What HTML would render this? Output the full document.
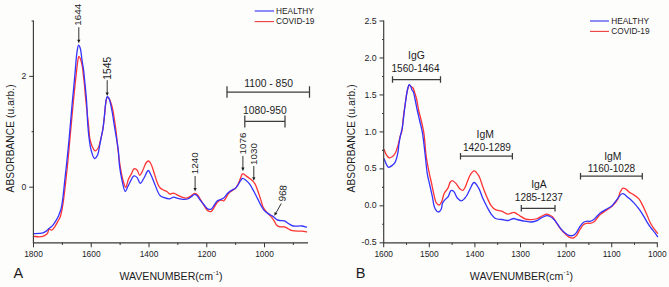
<!DOCTYPE html><html><head><meta charset="utf-8"><style>html,body{margin:0;padding:0;background:#fdfdfc;overflow:hidden;}svg{display:block;}text{font-family:"Liberation Sans",sans-serif;}</style></head><body>
<svg width="669" height="287" viewBox="0 0 669 287" font-family="Liberation Sans, sans-serif">
<rect width="669" height="287" fill="#fdfdfc"/>
<path d="M33.00,236.30 C35.13,236.47 37.60,236.86 39.40,236.80 C40.71,236.76 41.68,236.64 42.80,236.30 C43.99,235.93 45.40,235.37 46.30,234.60 C47.11,233.90 47.67,232.94 48.10,232.00 C48.53,231.07 48.30,229.29 48.90,229.00 C49.48,228.72 50.72,230.40 51.60,230.20 C52.77,229.94 53.93,227.81 55.00,226.30 C56.25,224.55 57.58,221.81 58.50,220.20 C59.10,219.15 59.53,218.79 60.00,217.60 C60.86,215.45 61.67,211.25 62.30,208.00 C62.94,204.71 63.29,201.82 63.80,198.00 C64.48,192.88 65.22,186.16 65.90,180.00 C66.62,173.51 67.35,166.67 68.00,160.00 C68.65,153.34 69.09,147.81 69.80,140.00 C70.81,128.95 72.64,108.89 73.50,100.00 C73.93,95.55 74.09,93.90 74.50,90.00 C75.08,84.48 76.08,75.35 76.70,70.00 C77.12,66.41 77.35,63.51 77.80,61.00 C78.12,59.17 78.38,56.39 78.90,56.30 C79.28,56.23 79.86,57.48 80.30,58.50 C81.10,60.37 81.90,64.19 82.40,67.00 C82.88,69.69 82.97,72.19 83.30,75.00 C83.67,78.15 84.17,81.66 84.50,85.00 C84.83,88.33 84.91,90.78 85.30,95.00 C85.98,102.32 87.66,116.88 88.50,125.00 C89.07,130.54 89.14,135.18 89.90,139.00 C90.45,141.73 91.08,143.85 92.00,145.90 C92.82,147.73 93.87,150.63 95.00,150.80 C95.97,150.95 97.36,149.30 98.20,148.00 C99.30,146.30 99.64,143.49 100.30,141.00 C101.05,138.20 101.77,135.45 102.40,132.00 C103.23,127.45 103.91,121.06 104.50,116.00 C105.03,111.45 105.20,106.40 105.80,103.00 C106.19,100.76 106.40,97.84 107.20,97.50 C107.68,97.29 108.44,97.85 109.00,98.50 C110.15,99.83 111.19,103.61 112.00,106.50 C112.91,109.73 113.38,113.31 114.00,117.00 C114.69,121.10 115.30,125.20 115.90,130.00 C116.65,135.94 117.20,143.44 118.00,150.00 C118.77,156.37 119.61,163.19 120.60,168.80 C121.41,173.41 122.24,177.93 123.30,181.30 C124.05,183.70 124.99,187.33 125.80,187.30 C126.74,187.26 127.43,181.44 128.50,179.00 C129.41,176.93 130.67,175.27 131.60,173.50 C132.45,171.88 132.84,169.22 133.90,168.80 C134.75,168.47 136.12,169.21 137.00,170.00 C138.18,171.06 138.75,175.25 139.70,175.30 C140.59,175.35 141.58,172.70 142.50,171.00 C143.70,168.78 144.75,164.70 146.00,163.00 C146.74,162.00 147.55,160.99 148.30,161.00 C149.05,161.01 149.81,161.97 150.50,163.00 C151.76,164.87 152.83,169.07 153.90,172.20 C155.00,175.40 155.84,179.20 157.00,182.00 C157.92,184.23 158.67,186.37 160.00,187.80 C161.15,189.05 162.94,189.75 164.20,190.40 C165.15,190.89 165.93,190.97 166.80,191.50 C167.84,192.13 168.79,193.88 169.90,194.10 C170.91,194.30 172.01,193.05 173.10,193.10 C174.27,193.15 175.39,194.01 176.70,194.60 C178.31,195.33 180.20,196.63 182.00,197.20 C183.70,197.73 185.61,198.29 187.20,198.00 C188.70,197.73 190.04,196.50 191.30,195.70 C192.45,194.96 193.46,193.50 194.50,193.40 C195.39,193.32 196.29,193.92 197.10,194.60 C198.18,195.50 198.97,197.21 200.00,198.80 C201.30,200.80 202.83,203.62 204.20,205.70 C205.39,207.50 206.34,209.67 207.70,210.60 C208.75,211.32 210.21,211.86 211.20,211.50 C212.32,211.10 212.97,209.18 213.90,207.80 C215.02,206.14 216.06,203.52 217.40,202.20 C218.46,201.16 219.76,200.27 220.90,200.10 C221.86,199.96 222.79,201.15 223.70,200.80 C225.17,200.23 226.70,196.10 227.90,194.50 C228.69,193.45 229.08,192.82 230.00,192.00 C231.23,190.91 233.56,190.10 234.90,188.80 C236.17,187.57 237.02,186.11 237.90,184.50 C238.89,182.69 239.63,180.25 240.40,178.40 C241.05,176.84 241.48,174.72 242.20,174.10 C242.57,173.78 242.95,173.71 243.40,173.80 C244.11,173.95 244.99,175.01 245.90,175.70 C246.99,176.52 248.35,177.51 249.50,178.40 C250.58,179.24 251.68,179.97 252.60,180.90 C253.51,181.81 254.26,182.63 255.00,183.90 C256.01,185.63 256.82,188.23 257.70,190.60 C258.66,193.21 259.58,196.12 260.50,198.90 C261.42,201.69 262.02,204.95 263.20,207.30 C264.18,209.24 265.41,210.68 266.70,212.20 C267.98,213.71 269.62,214.89 270.90,216.40 C272.19,217.92 273.41,219.76 274.40,221.30 C275.23,222.60 275.64,224.09 276.50,225.00 C277.22,225.76 277.95,226.26 279.00,226.60 C280.41,227.06 282.95,226.54 284.40,226.90 C285.45,227.16 285.99,227.61 287.00,228.10 C288.44,228.79 290.14,230.16 292.20,230.70 C294.85,231.40 299.09,230.92 301.80,231.20 C303.80,231.41 305.27,231.73 307.00,232.00" fill="none" stroke="#ff3333" stroke-width="1.3" stroke-linejoin="round"/>
<path d="M33.00,233.60 C35.13,233.53 37.61,233.56 39.40,233.40 C40.71,233.28 41.69,233.26 42.80,232.90 C43.99,232.52 45.27,231.85 46.30,231.10 C47.29,230.37 48.04,229.22 48.90,228.50 C49.64,227.89 50.37,227.64 51.10,227.00 C51.98,226.23 52.87,225.17 53.70,224.10 C54.61,222.93 55.50,221.56 56.30,220.20 C57.11,218.82 57.78,217.58 58.50,215.90 C59.46,213.67 60.57,210.81 61.30,207.90 C62.13,204.58 62.47,201.04 63.00,197.00 C63.66,191.97 64.16,185.90 64.80,180.00 C65.49,173.60 66.30,166.67 67.00,160.00 C67.70,153.34 68.27,147.81 69.00,140.00 C70.04,128.96 71.67,108.89 72.50,100.00 C72.92,95.55 73.13,93.91 73.50,90.00 C74.02,84.48 74.70,76.49 75.30,70.00 C75.87,63.84 76.25,56.55 77.00,52.00 C77.46,49.17 77.93,45.28 78.60,45.20 C79.09,45.14 79.82,47.02 80.30,48.50 C81.15,51.13 81.43,56.30 82.00,60.00 C82.53,63.45 83.17,66.66 83.60,70.00 C84.03,73.33 84.22,76.09 84.60,80.00 C85.14,85.52 85.98,92.96 86.50,100.00 C87.08,107.86 87.26,117.87 87.80,125.00 C88.21,130.34 88.58,134.54 89.20,139.00 C89.77,143.11 90.28,147.33 91.30,150.80 C92.15,153.69 93.25,158.29 94.50,158.50 C95.43,158.66 96.80,156.57 97.60,155.00 C98.73,152.78 98.95,149.09 99.60,145.90 C100.32,142.39 101.06,138.07 101.70,134.80 C102.21,132.20 102.68,130.49 103.10,127.80 C103.66,124.18 104.06,119.20 104.50,115.00 C104.93,110.94 105.16,106.33 105.70,103.00 C106.09,100.58 106.32,97.17 107.10,96.80 C107.49,96.62 108.10,97.05 108.50,97.50 C109.17,98.24 109.52,99.86 110.00,101.50 C110.72,103.97 111.33,107.37 112.00,111.00 C112.89,115.84 113.73,121.97 114.70,128.00 C115.81,134.86 117.49,143.27 118.30,150.00 C118.98,155.66 118.85,160.49 119.50,165.70 C120.15,170.92 121.10,176.68 122.20,181.30 C123.10,185.09 124.21,191.40 125.30,191.50 C126.07,191.57 126.85,188.48 127.70,186.80 C128.67,184.88 129.71,182.49 130.80,180.60 C131.78,178.89 132.71,176.23 133.90,175.90 C134.83,175.64 136.07,176.52 137.00,177.40 C138.30,178.63 139.12,183.24 140.30,183.30 C141.46,183.36 142.76,179.95 144.00,178.00 C145.43,175.75 147.02,170.51 148.30,170.50 C149.29,170.49 150.08,173.17 151.00,175.00 C152.30,177.58 153.55,181.40 155.00,184.70 C156.54,188.22 157.99,193.43 160.00,195.50 C161.26,196.80 162.69,197.06 164.20,197.60 C165.81,198.18 167.78,198.91 169.40,198.80 C170.89,198.70 172.19,197.28 173.60,197.20 C174.99,197.13 176.32,197.96 177.80,198.30 C179.44,198.67 181.30,199.19 183.00,199.30 C184.60,199.40 186.29,199.46 187.70,199.00 C189.04,198.56 190.15,197.48 191.30,196.70 C192.41,195.95 193.46,194.48 194.50,194.40 C195.39,194.33 196.29,195.00 197.10,195.70 C198.16,196.61 198.92,198.37 200.00,199.80 C201.25,201.45 202.84,203.42 204.20,205.00 C205.40,206.39 206.40,208.14 207.70,208.80 C208.77,209.35 210.20,209.62 211.20,209.20 C212.31,208.73 212.95,206.97 213.90,205.70 C215.00,204.21 216.06,201.85 217.40,200.80 C218.46,199.97 219.81,199.89 220.90,199.40 C221.90,198.95 222.75,198.74 223.70,198.00 C225.06,196.93 226.35,194.52 227.90,193.10 C229.40,191.73 231.47,190.31 232.80,189.60 C233.61,189.16 234.21,189.30 234.90,188.80 C235.91,188.07 236.99,186.41 237.90,185.10 C238.82,183.78 239.55,182.09 240.40,180.90 C241.09,179.93 241.64,178.57 242.50,178.40 C243.44,178.22 244.81,179.38 245.90,180.20 C247.16,181.14 248.32,182.34 249.50,183.90 C251.10,186.00 252.78,189.39 254.20,192.00 C255.49,194.37 256.54,196.59 257.70,198.90 C258.87,201.22 260.06,203.89 261.20,205.90 C262.11,207.51 262.79,208.84 263.90,210.10 C265.07,211.42 266.60,212.56 268.10,213.60 C269.63,214.66 271.47,215.34 273.00,216.40 C274.50,217.44 275.78,219.22 277.20,219.90 C278.35,220.45 279.51,220.43 280.70,220.60 C281.91,220.77 283.17,220.48 284.40,220.90 C285.84,221.39 287.24,222.84 288.70,223.70 C290.14,224.54 291.32,225.56 293.10,226.00 C295.45,226.58 299.29,225.71 301.80,226.00 C303.77,226.22 305.27,226.80 307.00,227.20" fill="none" stroke="#3333ff" stroke-width="1.3" stroke-linejoin="round"/>
<path d="M33.4,20.5 V242.8 H308" fill="none" stroke="#3a3a3a" stroke-width="1.15"/>
<line x1="31.60" y1="21.0" x2="33.4" y2="21.0" stroke="#3a3a3a" stroke-width="1.05"/>
<line x1="29.20" y1="76.4" x2="33.4" y2="76.4" stroke="#3a3a3a" stroke-width="1.05"/>
<line x1="31.60" y1="131.7" x2="33.4" y2="131.7" stroke="#3a3a3a" stroke-width="1.05"/>
<line x1="29.20" y1="187.2" x2="33.4" y2="187.2" stroke="#3a3a3a" stroke-width="1.05"/>
<text x="26.4" y="79.00" font-size="8.6" text-anchor="end" fill="#1c1c1c">2</text>
<text x="26.4" y="189.80" font-size="8.6" text-anchor="end" fill="#1c1c1c">0</text>
<line x1="33.50" y1="242.8" x2="33.50" y2="247.3" stroke="#3a3a3a" stroke-width="1.05"/>
<text x="33.50" y="256.7" font-size="8.4" text-anchor="middle" fill="#1c1c1c">1800</text>
<line x1="62.38" y1="242.8" x2="62.38" y2="245.0" stroke="#3a3a3a" stroke-width="1.05"/>
<line x1="91.25" y1="242.8" x2="91.25" y2="247.3" stroke="#3a3a3a" stroke-width="1.05"/>
<text x="91.25" y="256.7" font-size="8.4" text-anchor="middle" fill="#1c1c1c">1600</text>
<line x1="120.12" y1="242.8" x2="120.12" y2="245.0" stroke="#3a3a3a" stroke-width="1.05"/>
<line x1="149.00" y1="242.8" x2="149.00" y2="247.3" stroke="#3a3a3a" stroke-width="1.05"/>
<text x="149.00" y="256.7" font-size="8.4" text-anchor="middle" fill="#1c1c1c">1400</text>
<line x1="177.88" y1="242.8" x2="177.88" y2="245.0" stroke="#3a3a3a" stroke-width="1.05"/>
<line x1="206.75" y1="242.8" x2="206.75" y2="247.3" stroke="#3a3a3a" stroke-width="1.05"/>
<text x="206.75" y="256.7" font-size="8.4" text-anchor="middle" fill="#1c1c1c">1200</text>
<line x1="235.62" y1="242.8" x2="235.62" y2="245.0" stroke="#3a3a3a" stroke-width="1.05"/>
<line x1="264.50" y1="242.8" x2="264.50" y2="247.3" stroke="#3a3a3a" stroke-width="1.05"/>
<text x="264.50" y="256.7" font-size="8.4" text-anchor="middle" fill="#1c1c1c">1000</text>
<line x1="293.38" y1="242.8" x2="293.38" y2="245.0" stroke="#3a3a3a" stroke-width="1.05"/>
<text transform="translate(14.3,138.4) rotate(-90)" font-size="10.1" text-anchor="middle" textLength="108" fill="#1c1c1c">ABSORBANCE (u.arb.)</text>
<text x="119.4" y="280.3" font-size="10.6" fill="#1c1c1c">WAVENUMBER(cm<tspan font-size="6" dy="-6.1">-</tspan><tspan font-size="6.2" dy="1.2" dx="0.6">1</tspan><tspan dy="4.9">)</tspan></text>
<text x="13.5" y="278" font-size="14.5" fill="#1c1c1c">A</text>
<line x1="254.7" y1="11" x2="274.1" y2="11" stroke="#7070f4" stroke-width="1.6"/>
<line x1="254.7" y1="21.6" x2="274.1" y2="21.6" stroke="#ee4040" stroke-width="1.1"/>
<text x="276.1" y="13.7" font-size="8.3" fill="#1c1c1c">HEALTHY</text>
<text x="276.1" y="24.0" font-size="8.3" fill="#1c1c1c">COVID-19</text>
<text transform="translate(81.2,25.8) rotate(-90)" font-size="9.9" fill="#1c1c1c">1644</text>
<line x1="78.8" y1="27.2" x2="78.8" y2="40.3" stroke="#1c1c1c" stroke-width="0.9"/><path d="M77.2,39.699999999999996 L80.39999999999999,39.699999999999996 L78.8,43.3 Z" fill="#1c1c1c"/>
<text transform="translate(110.7,79.8) rotate(-90)" font-size="10.3" fill="#1c1c1c">1545</text>
<line x1="107.2" y1="80.2" x2="107.2" y2="93" stroke="#1c1c1c" stroke-width="0.9"/><path d="M105.60000000000001,92.4 L108.8,92.4 L107.2,96 Z" fill="#1c1c1c"/>
<text transform="translate(198.3,174.2) rotate(-90)" font-size="9.9" fill="#1c1c1c">1240</text>
<line x1="195.1" y1="176" x2="195.1" y2="188.6" stroke="#1c1c1c" stroke-width="0.9"/><path d="M193.5,188.0 L196.7,188.0 L195.1,191.6 Z" fill="#1c1c1c"/>
<text transform="translate(245.9,154.6) rotate(-90)" font-size="9.9" fill="#1c1c1c">1076</text>
<line x1="242.9" y1="155.9" x2="242.9" y2="168.2" stroke="#1c1c1c" stroke-width="0.9"/><path d="M241.3,167.6 L244.5,167.6 L242.9,171.2 Z" fill="#1c1c1c"/>
<text transform="translate(256.9,165.1) rotate(-90)" font-size="9.9" fill="#1c1c1c">1030</text>
<line x1="253.8" y1="166" x2="253.8" y2="177.8" stroke="#1c1c1c" stroke-width="0.9"/><path d="M252.20000000000002,177.20000000000002 L255.4,177.20000000000002 L253.8,180.8 Z" fill="#1c1c1c"/>
<text transform="translate(285.2,201.8) rotate(-84)" font-size="9.9" fill="#1c1c1c">968</text>
<line x1="281.3" y1="203.5" x2="276.0" y2="212.8" stroke="#1c1c1c" stroke-width="0.9"/>
<path d="M274.3,215.8 L274.64,211.97 L277.42,213.55 Z" fill="#1c1c1c"/>
<text x="244.2" y="87.4" font-size="10.35" fill="#1c1c1c">1100 - 850</text>
<path d="M227,92 H309.5 M227,86.3 V97.7 M309.5,86.3 V97.7" stroke="#3c3c3c" stroke-width="1.25" fill="none"/>
<text x="243.1" y="114.1" font-size="10.3" fill="#1c1c1c">1080-950</text>
<path d="M244.8,121.4 H285 M244.8,115.4 V127.4 M285,115.4 V127.4" stroke="#3c3c3c" stroke-width="1.25" fill="none"/>
<path d="M384.00,149.30 C384.70,150.97 385.18,152.84 386.10,154.30 C386.97,155.68 388.14,157.64 389.30,157.90 C390.27,158.12 391.47,157.29 392.40,156.60 C393.47,155.81 394.38,154.64 395.20,153.20 C396.30,151.26 397.10,148.36 397.90,145.70 C398.78,142.77 399.45,138.88 400.20,136.30 C400.74,134.45 401.34,133.66 401.80,131.60 C402.61,127.95 402.86,121.05 403.50,116.00 C404.10,111.20 404.81,106.48 405.50,102.00 C406.14,97.84 406.65,93.07 407.50,90.00 C408.05,88.00 408.64,85.40 409.40,85.20 C409.88,85.07 410.43,86.06 411.00,86.50 C411.63,86.99 412.46,87.27 413.00,88.00 C413.71,88.95 413.98,90.45 414.50,92.00 C415.20,94.10 416.05,96.77 416.70,99.50 C417.45,102.69 417.86,106.55 418.60,110.00 C419.33,113.39 420.28,116.47 421.10,120.00 C422.02,123.95 423.02,127.69 423.80,132.60 C424.87,139.38 425.25,149.64 426.30,157.00 C427.18,163.14 428.42,169.05 429.40,173.80 C430.13,177.33 430.81,179.86 431.50,183.00 C432.22,186.28 432.78,189.77 433.60,193.10 C434.41,196.41 435.05,200.94 436.40,202.90 C437.19,204.05 438.34,205.15 439.20,205.00 C440.24,204.82 441.24,202.45 442.00,200.80 C442.91,198.82 442.98,195.99 444.00,193.80 C445.04,191.58 447.13,189.68 448.20,187.60 C449.16,185.74 449.37,183.17 450.30,182.00 C450.90,181.24 451.62,180.57 452.40,180.60 C453.43,180.64 454.75,182.22 455.90,183.40 C457.33,184.88 458.70,187.86 460.10,189.00 C461.03,189.76 462.07,190.53 462.90,190.30 C463.92,190.02 464.79,187.87 465.50,186.50 C466.23,185.08 466.51,183.60 467.20,181.90 C468.07,179.73 469.09,176.55 470.40,174.60 C471.47,173.01 472.80,170.79 474.10,170.80 C475.55,170.81 477.38,173.48 478.70,175.60 C480.49,178.48 481.47,183.36 482.90,187.10 C484.27,190.69 485.62,194.34 487.10,197.60 C488.44,200.56 489.68,203.78 491.30,205.90 C492.57,207.56 493.83,208.82 495.50,209.70 C497.27,210.63 499.68,210.48 501.70,211.20 C503.78,211.94 505.73,213.92 507.80,214.10 C509.80,214.27 512.23,212.23 513.90,212.40 C515.14,212.53 515.90,213.38 517.00,214.00 C518.31,214.74 519.83,215.78 521.20,216.60 C522.49,217.37 523.52,218.30 525.00,218.80 C526.79,219.40 529.21,219.65 531.30,219.60 C533.38,219.55 535.65,219.16 537.50,218.50 C539.18,217.90 540.44,216.73 542.00,216.00 C543.57,215.26 545.45,214.10 546.90,214.10 C548.05,214.10 549.04,214.83 550.00,215.30 C550.90,215.74 551.70,216.04 552.50,216.80 C553.63,217.88 554.53,219.83 555.70,221.60 C557.14,223.78 558.79,226.74 560.50,228.90 C562.04,230.86 563.83,232.65 565.40,234.10 C566.68,235.29 567.74,236.45 569.10,237.10 C570.39,237.72 572.06,238.28 573.30,238.00 C574.48,237.73 575.43,236.70 576.40,235.60 C577.71,234.12 578.74,231.39 580.00,229.50 C581.18,227.74 582.30,225.65 583.70,224.60 C584.82,223.76 586.26,223.39 587.40,223.20 C588.33,223.05 589.04,223.48 590.00,223.30 C591.30,223.06 592.96,222.47 594.40,221.40 C596.38,219.93 598.12,216.38 600.20,214.50 C602.05,212.83 604.14,211.85 606.10,210.50 C608.07,209.15 610.16,208.13 612.00,206.40 C614.10,204.43 616.45,201.59 617.80,199.10 C618.97,196.95 619.05,194.42 620.00,192.50 C620.83,190.82 621.84,188.48 623.00,188.10 C623.88,187.81 624.97,188.54 625.90,189.10 C626.99,189.76 627.79,191.09 629.00,192.00 C630.40,193.05 632.30,193.79 633.90,194.90 C635.60,196.07 637.46,197.22 638.90,198.90 C640.52,200.79 641.62,203.39 642.90,205.90 C644.30,208.66 645.59,211.82 646.90,214.80 C648.22,217.79 649.36,221.17 650.80,223.80 C652.03,226.04 653.54,227.94 654.80,229.70 C655.85,231.18 656.80,232.37 657.80,233.70" fill="none" stroke="#ff3333" stroke-width="1.3" stroke-linejoin="round"/>
<path d="M384.00,158.50 C384.70,160.23 385.29,162.16 386.10,163.70 C386.81,165.05 387.45,167.03 388.50,167.30 C389.55,167.57 391.28,166.18 392.40,165.30 C393.51,164.44 394.40,163.56 395.20,162.10 C396.41,159.88 397.32,155.63 397.90,152.70 C398.39,150.22 398.40,147.91 398.70,145.70 C398.97,143.70 399.22,142.07 399.60,140.00 C400.05,137.51 400.80,133.96 401.30,131.80 C401.63,130.38 401.88,129.97 402.20,128.30 C402.97,124.27 403.89,114.04 404.80,107.40 C405.63,101.33 406.41,94.12 407.40,90.00 C407.96,87.66 408.48,84.74 409.20,84.60 C409.68,84.51 410.36,85.72 410.80,86.50 C411.34,87.45 411.51,89.11 412.00,90.00 C412.35,90.64 412.83,90.75 413.20,91.50 C413.93,93.00 414.40,96.26 415.00,99.00 C415.73,102.31 416.43,106.43 417.20,110.00 C417.93,113.42 418.69,116.47 419.50,120.00 C420.41,123.96 421.53,127.64 422.40,132.60 C423.62,139.57 424.62,150.53 425.50,158.00 C426.19,163.89 426.52,169.07 427.30,173.80 C427.94,177.70 428.80,180.80 429.60,184.40 C430.43,188.16 431.32,191.98 432.20,195.90 C433.12,200.00 433.48,205.73 435.00,208.50 C435.94,210.22 437.41,212.01 438.50,212.00 C439.46,211.99 440.54,210.44 441.20,209.20 C442.06,207.61 441.78,204.62 442.60,202.90 C443.29,201.47 444.44,200.48 445.40,199.40 C446.31,198.39 447.36,197.80 448.20,196.60 C449.29,195.05 449.79,191.13 451.00,190.60 C451.81,190.25 452.94,190.79 453.80,191.50 C455.16,192.63 455.85,196.40 457.30,198.00 C458.50,199.32 460.18,200.86 461.50,200.80 C462.74,200.75 464.04,199.02 465.00,198.00 C465.87,197.07 466.37,196.24 467.10,195.00 C468.14,193.22 469.20,190.33 470.40,188.20 C471.54,186.18 472.75,182.57 474.10,182.50 C475.50,182.43 477.35,185.90 478.70,188.20 C480.38,191.05 481.43,195.35 482.90,198.60 C484.24,201.58 485.66,204.32 487.10,207.00 C488.46,209.54 489.75,212.28 491.30,214.30 C492.60,215.99 493.78,217.63 495.50,218.50 C497.31,219.42 499.90,219.16 502.00,219.50 C503.99,219.82 505.86,220.64 507.80,220.50 C509.83,220.35 512.21,218.50 513.90,218.50 C515.11,218.50 515.88,219.19 517.00,219.50 C518.29,219.86 519.83,220.21 521.20,220.50 C522.49,220.77 523.57,220.98 525.00,221.20 C526.83,221.48 529.22,222.13 531.30,222.00 C533.39,221.87 535.66,221.21 537.50,220.40 C539.19,219.66 540.42,218.29 542.00,217.50 C543.56,216.72 545.44,215.77 546.90,215.70 C548.04,215.64 549.00,216.03 550.00,216.50 C551.11,217.02 552.24,217.94 553.20,218.80 C554.14,219.64 554.77,220.44 555.70,221.60 C557.08,223.33 558.81,226.30 560.50,228.30 C562.05,230.13 563.80,231.96 565.40,233.20 C566.66,234.18 567.77,235.04 569.10,235.40 C570.41,235.76 572.08,235.87 573.30,235.40 C574.51,234.93 575.42,233.81 576.40,232.60 C577.68,231.03 578.71,228.31 580.00,226.50 C581.16,224.88 582.32,223.07 583.70,222.20 C584.83,221.49 586.27,221.31 587.40,221.20 C588.33,221.11 589.06,221.61 590.00,221.40 C591.32,221.11 592.91,220.04 594.40,218.90 C596.30,217.44 598.15,214.63 600.20,213.00 C602.07,211.51 604.14,210.61 606.10,209.40 C608.07,208.18 610.17,207.34 612.00,205.70 C614.12,203.81 616.07,200.52 617.80,198.40 C619.16,196.74 620.30,194.63 621.50,194.00 C622.25,193.61 622.93,193.55 623.70,193.80 C624.83,194.16 626.18,195.96 627.30,196.90 C628.26,197.70 629.04,198.24 630.00,199.10 C631.20,200.17 632.56,201.45 633.90,202.90 C635.51,204.64 637.37,206.87 638.90,208.90 C640.36,210.84 641.61,212.72 642.90,214.80 C644.28,217.01 645.54,219.59 646.90,221.80 C648.18,223.87 649.45,225.84 650.80,227.70 C652.09,229.47 653.59,231.06 654.80,232.70 C655.90,234.19 656.80,235.63 657.80,237.10" fill="none" stroke="#3333ff" stroke-width="1.3" stroke-linejoin="round"/>
<path d="M383.7,20.5 V242.8 H657.8" fill="none" stroke="#3a3a3a" stroke-width="1.15"/>
<line x1="379.50" y1="21.00" x2="383.7" y2="21.00" stroke="#3a3a3a" stroke-width="1.05"/>
<text x="376.7" y="23.60" font-size="8.8" text-anchor="end" fill="#1c1c1c">2.5</text>
<line x1="382.10" y1="39.48" x2="383.7" y2="39.48" stroke="#3a3a3a" stroke-width="1.05"/>
<line x1="379.50" y1="57.97" x2="383.7" y2="57.97" stroke="#3a3a3a" stroke-width="1.05"/>
<text x="376.7" y="60.57" font-size="8.8" text-anchor="end" fill="#1c1c1c">2.0</text>
<line x1="382.10" y1="76.45" x2="383.7" y2="76.45" stroke="#3a3a3a" stroke-width="1.05"/>
<line x1="379.50" y1="94.93" x2="383.7" y2="94.93" stroke="#3a3a3a" stroke-width="1.05"/>
<text x="376.7" y="97.53" font-size="8.8" text-anchor="end" fill="#1c1c1c">1.5</text>
<line x1="382.10" y1="113.42" x2="383.7" y2="113.42" stroke="#3a3a3a" stroke-width="1.05"/>
<line x1="379.50" y1="131.90" x2="383.7" y2="131.90" stroke="#3a3a3a" stroke-width="1.05"/>
<text x="376.7" y="134.50" font-size="8.8" text-anchor="end" fill="#1c1c1c">1.0</text>
<line x1="382.10" y1="150.38" x2="383.7" y2="150.38" stroke="#3a3a3a" stroke-width="1.05"/>
<line x1="379.50" y1="168.86" x2="383.7" y2="168.86" stroke="#3a3a3a" stroke-width="1.05"/>
<text x="376.7" y="171.46" font-size="8.8" text-anchor="end" fill="#1c1c1c">0.5</text>
<line x1="382.10" y1="187.35" x2="383.7" y2="187.35" stroke="#3a3a3a" stroke-width="1.05"/>
<line x1="379.50" y1="205.83" x2="383.7" y2="205.83" stroke="#3a3a3a" stroke-width="1.05"/>
<text x="376.7" y="208.43" font-size="8.8" text-anchor="end" fill="#1c1c1c">0.0</text>
<line x1="382.10" y1="224.31" x2="383.7" y2="224.31" stroke="#3a3a3a" stroke-width="1.05"/>
<line x1="379.50" y1="242.80" x2="383.7" y2="242.80" stroke="#3a3a3a" stroke-width="1.05"/>
<text x="376.7" y="245.40" font-size="8.8" text-anchor="end" fill="#1c1c1c">-0.5</text>
<line x1="383.70" y1="242.8" x2="383.70" y2="247.3" stroke="#3a3a3a" stroke-width="1.05"/>
<text x="383.70" y="256.7" font-size="8.4" text-anchor="middle" fill="#1c1c1c">1600</text>
<line x1="406.50" y1="242.8" x2="406.50" y2="245.0" stroke="#3a3a3a" stroke-width="1.05"/>
<line x1="429.30" y1="242.8" x2="429.30" y2="247.3" stroke="#3a3a3a" stroke-width="1.05"/>
<text x="429.30" y="256.7" font-size="8.4" text-anchor="middle" fill="#1c1c1c">1500</text>
<line x1="452.10" y1="242.8" x2="452.10" y2="245.0" stroke="#3a3a3a" stroke-width="1.05"/>
<line x1="474.90" y1="242.8" x2="474.90" y2="247.3" stroke="#3a3a3a" stroke-width="1.05"/>
<text x="474.90" y="256.7" font-size="8.4" text-anchor="middle" fill="#1c1c1c">1400</text>
<line x1="497.70" y1="242.8" x2="497.70" y2="245.0" stroke="#3a3a3a" stroke-width="1.05"/>
<line x1="520.50" y1="242.8" x2="520.50" y2="247.3" stroke="#3a3a3a" stroke-width="1.05"/>
<text x="520.50" y="256.7" font-size="8.4" text-anchor="middle" fill="#1c1c1c">1300</text>
<line x1="543.30" y1="242.8" x2="543.30" y2="245.0" stroke="#3a3a3a" stroke-width="1.05"/>
<line x1="566.10" y1="242.8" x2="566.10" y2="247.3" stroke="#3a3a3a" stroke-width="1.05"/>
<text x="566.10" y="256.7" font-size="8.4" text-anchor="middle" fill="#1c1c1c">1200</text>
<line x1="588.90" y1="242.8" x2="588.90" y2="245.0" stroke="#3a3a3a" stroke-width="1.05"/>
<line x1="611.70" y1="242.8" x2="611.70" y2="247.3" stroke="#3a3a3a" stroke-width="1.05"/>
<text x="611.70" y="256.7" font-size="8.4" text-anchor="middle" fill="#1c1c1c">1100</text>
<line x1="634.50" y1="242.8" x2="634.50" y2="245.0" stroke="#3a3a3a" stroke-width="1.05"/>
<line x1="657.30" y1="242.8" x2="657.30" y2="247.3" stroke="#3a3a3a" stroke-width="1.05"/>
<text x="657.30" y="256.7" font-size="8.4" text-anchor="middle" fill="#1c1c1c">1000</text>
<text transform="translate(355.4,138.4) rotate(-90)" font-size="10.1" text-anchor="middle" textLength="108" fill="#1c1c1c">ABSORBANCE (u.arb.)</text>
<text x="469.8" y="280.3" font-size="10.6" fill="#1c1c1c">WAVENUMBER(cm<tspan font-size="6" dy="-6.1">-</tspan><tspan font-size="6.2" dy="1.2" dx="0.6">1</tspan><tspan dy="4.9">)</tspan></text>
<text x="355.8" y="278" font-size="14.5" fill="#1c1c1c">B</text>
<line x1="590" y1="21" x2="609" y2="21" stroke="#7070f4" stroke-width="1.6"/>
<line x1="590" y1="31.4" x2="609" y2="31.4" stroke="#ee4040" stroke-width="1.1"/>
<text x="611.3" y="23.9" font-size="8.3" fill="#1c1c1c">HEALTHY</text>
<text x="611.3" y="34.1" font-size="8.3" fill="#1c1c1c">COVID-19</text>
<text x="408.0" y="59.4" font-size="10.4" fill="#1c1c1c">IgG</text><text x="391.50" y="72.10" font-size="10.05" fill="#1c1c1c">1560-1464</text><path d="M392.5,79.5 H440.5 M392.5,76.2 V82.8 M440.5,76.2 V82.8" stroke="#3c3c3c" stroke-width="1.25" fill="none"/>
<text x="476.6" y="138.3" font-size="10.4" fill="#1c1c1c">IgM</text><text x="462.90" y="150.50" font-size="10.05" fill="#1c1c1c">1420-1289</text><path d="M460.5,156.2 H512.4 M460.5,152.89999999999998 V159.5 M512.4,152.89999999999998 V159.5" stroke="#3c3c3c" stroke-width="1.25" fill="none"/>
<text x="531.2" y="188.3" font-size="10.4" fill="#1c1c1c">IgA</text><text x="514.80" y="200.50" font-size="10.05" fill="#1c1c1c">1285-1237</text><path d="M521.3,208.3 H555 M521.3,205.0 V211.60000000000002 M555,205.0 V211.60000000000002" stroke="#3c3c3c" stroke-width="1.25" fill="none"/>
<text x="604.2" y="159.5" font-size="10.4" fill="#1c1c1c">IgM</text><text x="587.80" y="171.90" font-size="10.05" fill="#1c1c1c">1160-1028</text><path d="M580.5,176.2 H642.3 M580.5,172.89999999999998 V179.5 M642.3,172.89999999999998 V179.5" stroke="#3c3c3c" stroke-width="1.25" fill="none"/>
</svg></body></html>
